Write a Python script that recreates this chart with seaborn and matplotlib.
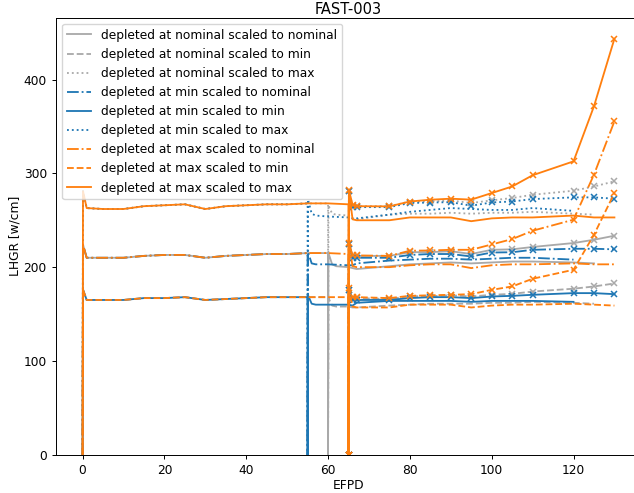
import matplotlib
matplotlib.use("Agg")
import matplotlib.pyplot as plt
import seaborn as sns

# depletion phase (same for all cases, cut at the end of each case)
efpd_dep = [0, 0.1, 1, 5, 10, 15, 20, 25, 30, 35, 40, 45, 50, 55, 60, 65]
dep_nom = [0, 224, 210, 210, 210, 212, 213, 213, 210, 212, 213, 214, 214, 215, 215, 214]
dep_min = [0, 176, 165, 165, 165, 167, 167, 168, 165, 166, 167, 168, 168, 168, 168, 168]
dep_max = [0, 281, 263, 262, 262, 265, 266, 267, 262, 265, 266, 267, 267, 268, 268, 267]

# reload after end of depletion, no markers
efpd_b_nom = [60, 60.1, 61, 62, 65, 66, 67, 75, 80, 85, 90, 95, 100, 105, 110, 120, 125]
nom_nom_b = [0, 215, 203, 201, 200, 199, 198, 201, 203, 204, 205, 204, 205, 206, 206, 205, 204]
nom_min_b = [0, 167, 159, 158, 158, 157, 157, 159, 160, 161, 161, 161, 162, 162, 163, 162, 161]
nom_max_b = [0, 266, 257, 256, 255, 252, 251, 256, 257, 257, 258, 257, 258, 258, 259, 257, 256]

efpd_b_min = [55, 55.1, 56, 57, 60, 65, 66, 67, 75, 80, 85, 90, 95, 100, 105, 110, 120]
min_nom_b = [0, 216, 204, 203, 203, 202, 202, 204, 207, 208, 209, 209, 208, 209, 210, 210, 208]
min_min_b = [0, 170, 161, 160, 160, 160, 159, 162, 164, 164, 164, 164, 163, 164, 164, 164, 163]
min_max_b = [0, 272, 257, 255, 254, 253, 252, 252, 256, 259, 261, 263, 262, 261, 261, 263, 260]

efpd_b_max = [65, 65.1, 66, 67, 75, 80, 85, 90, 95, 100, 105, 110, 120, 125, 130]
max_nom_b = [0, 225, 201, 200, 200, 202, 203, 203, 199, 202, 203, 203, 204, 203, 203]
max_min_b = [0, 176, 158, 157, 157, 160, 160, 160, 157, 159, 160, 160, 161, 160, 159]
max_max_b = [0, 281, 251, 250, 250, 253, 253, 253, 249, 252, 253, 253, 255, 253, 253]

# second part with markers, all from 65 EFPD
efpd_c = [65, 65.1, 66, 67, 75, 80, 85, 90, 95, 100, 105, 110, 120, 125, 130]
nom_nom_c = [0, 225, 212, 212, 212, 216, 216, 217, 214, 218.5, 219, 221.5, 225.7, 229.2, 233.5]
nom_min_c = [0, 176, 167, 167, 166, 169, 169, 170, 168.7, 170.5, 171.5, 174, 177, 179.4, 182.6]
nom_max_c = [0, 281, 265, 265, 265, 270, 270, 271, 268.4, 271.2, 273.7, 277.2, 281.5, 286, 291.5]
min_nom_c = [0, 225, 210, 210, 210, 213, 214, 214, 211.4, 215.6, 215.9, 218.5, 219.6, 219.6, 219]
min_min_c = [0, 176, 165, 165, 165, 167, 168, 168, 167, 168.7, 169.4, 170.5, 172.3, 172.3, 171.2]
min_max_c = [0, 281, 264, 264, 264, 268.4, 268.9, 269.3, 265.5, 269, 270, 272.6, 274.4, 274.4, 273]
max_nom_c = [0, 225.7, 212.5, 212.5, 212, 217.5, 217.8, 218.5, 218.5, 224.2, 229.9, 238.8, 250.6, 298.6, 355.5]
max_min_c = [0, 177.6, 168, 168, 167, 169.4, 170, 170.5, 171.2, 175.8, 179.4, 187.6, 197.2, 234.5, 279]
max_max_c = [0, 281.8, 266.6, 265, 264.8, 270, 271.9, 273, 272, 279, 286, 298, 312.8, 371.5, 443.5]

dep_end = {"nominal": 60, "min": 55, "max": 65}
colors = {"nominal": "darkgray", "min": "#1f77b4", "max": "#ff7f0e"}
styles = {
    "nominal": {"nominal": "-", "min": "--", "max": ":"},
    "min": {"nominal": "-.", "min": "-", "max": ":"},
    "max": {"nominal": "-.", "min": "--", "max": "-"},
}
dep_curves = {"nominal": dep_nom, "min": dep_min, "max": dep_max}
b_x = {"nominal": efpd_b_nom, "min": efpd_b_min, "max": efpd_b_max}
b_curves = {
    "nominal": {"nominal": nom_nom_b, "min": nom_min_b, "max": nom_max_b},
    "min": {"nominal": min_nom_b, "min": min_min_b, "max": min_max_b},
    "max": {"nominal": max_nom_b, "min": max_min_b, "max": max_max_b},
}
c_curves = {
    "nominal": {"nominal": nom_nom_c, "min": nom_min_c, "max": nom_max_c},
    "min": {"nominal": min_nom_c, "min": min_min_c, "max": min_max_c},
    "max": {"nominal": max_nom_c, "min": max_min_c, "max": max_max_c},
}

# reference looks like the default style rendered a bit smaller
s = 0.88
plt.rcParams.update({
    "font.size": 10 * s,
    "axes.titlesize": 12 * s,
    "axes.linewidth": 0.8 * s,
    "xtick.major.size": 3.5 * s,
    "ytick.major.size": 3.5 * s,
    "xtick.major.width": 0.8 * s,
    "ytick.major.width": 0.8 * s,
    "axes.titlepad": 3,
    "axes.labelpad": 1.5,
})
lw = 1.5 * s

fig = plt.figure(figsize=(6.34, 4.93), dpi=100)
ax = fig.add_axes([56 / 634, 38.3 / 493, 585 / 634, 437 / 493])

for dep in ["nominal", "min", "max"]:
    n = efpd_dep.index(dep_end[dep]) + 1
    for sc in ["nominal", "min", "max"]:
        xs = efpd_dep[:n] + b_x[dep]
        ys = dep_curves[sc][:n] + b_curves[dep][sc]
        sns.lineplot(x=xs, y=ys, color=colors[dep], linestyle=styles[dep][sc],
                     linewidth=lw, estimator=None, sort=False, ax=ax,
                     label=f"depleted at {dep} scaled to {sc}")
    for sc in ["nominal", "min", "max"]:
        sns.lineplot(x=efpd_c, y=c_curves[dep][sc], color=colors[dep],
                     linestyle=styles[dep][sc], linewidth=lw, marker="x",
                     markersize=4.5, markeredgewidth=1.1,
                     markeredgecolor=colors[dep], markerfacecolor=colors[dep],
                     estimator=None, sort=False, ax=ax)

ax.set_xlim(-6.5, 136.5)
ax.set_ylim(0, 466)
ax.set_title("FAST-003")
ax.set_xlabel("EFPD")
ax.set_ylabel("LHGR [w/cm]")
ax.legend(loc="upper left")

fig.savefig("out.png", dpi=100)
